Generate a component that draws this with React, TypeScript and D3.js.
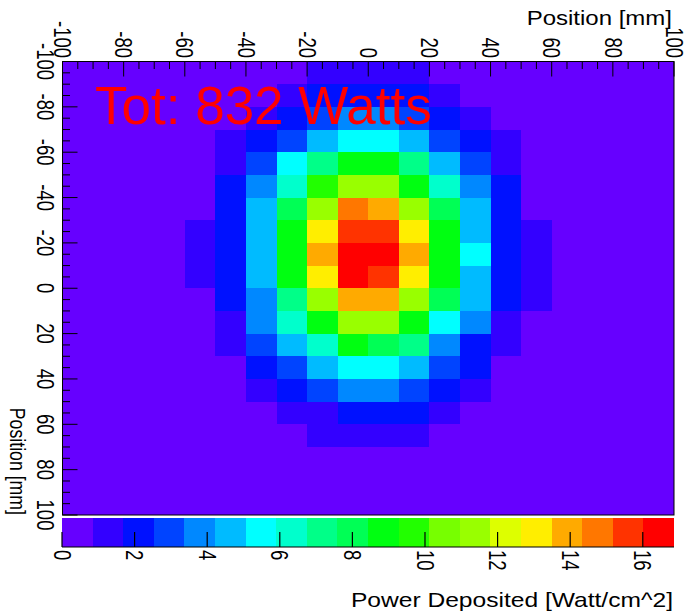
import React from "react";
import * as d3 from "d3";

// ---- data ----
const xEdges = [-100, -90, -80, -70, -60, -50, -40, -30, -20, -10, 0, 10, 20, 30, 40, 50, 60, 70, 80, 90, 100];
const yEdges = [-100, -90, -80, -70, -60, -50, -40, -30, -20, -10, 0, 10, 20, 30, 40, 50, 60, 70, 80, 90, 100];

// power deposited per 10x10 mm cell [Watt/cm^2]; rows = y bins (top -> bottom), cols = x bins
const power: number[][] = [
  [0.2, 0.2, 0.2, 0.2, 0.2, 0.2, 0.2, 0.3, 1.3, 1.3, 1.3, 1.3, 0.3, 0.2, 0.2, 0.2, 0.2, 0.2, 0.2, 0.2],
  [0.2, 0.2, 0.2, 0.2, 0.2, 0.3, 0.6, 1.3, 2.1, 2.1, 2.1, 2.1, 1.3, 0.6, 0.3, 0.2, 0.2, 0.2, 0.2, 0.2],
  [0.2, 0.2, 0.2, 0.2, 0.3, 0.6, 1.3, 2.1, 3.0, 3.8, 3.8, 3.0, 2.1, 1.3, 0.6, 0.3, 0.2, 0.2, 0.2, 0.2],
  [0.2, 0.2, 0.2, 0.2, 0.5, 1.3, 2.1, 3.0, 4.6, 5.5, 5.5, 4.6, 3.0, 2.1, 1.3, 0.5, 0.2, 0.2, 0.2, 0.2],
  [0.2, 0.2, 0.2, 0.2, 0.7, 1.3, 3.0, 5.5, 7.2, 8.9, 8.9, 7.2, 4.6, 3.0, 1.3, 0.7, 0.2, 0.2, 0.2, 0.2],
  [0.2, 0.2, 0.2, 0.3, 0.8, 2.1, 3.8, 6.3, 9.7, 11.4, 11.4, 8.9, 6.3, 3.8, 2.1, 0.8, 0.3, 0.2, 0.2, 0.2],
  [0.2, 0.2, 0.2, 0.3, 0.8, 2.1, 4.6, 8.0, 11.4, 14.8, 13.9, 11.4, 8.0, 4.6, 2.1, 0.8, 0.3, 0.2, 0.2, 0.2],
  [0.2, 0.2, 0.2, 0.4, 1.3, 2.1, 4.6, 8.9, 13.1, 15.6, 15.6, 13.1, 8.9, 4.6, 2.1, 1.3, 0.4, 0.2, 0.2, 0.2],
  [0.2, 0.2, 0.2, 0.4, 1.3, 2.1, 4.6, 8.9, 13.9, 16.86, 16.5, 13.9, 8.9, 5.5, 2.1, 1.3, 0.4, 0.2, 0.2, 0.2],
  [0.2, 0.2, 0.2, 0.4, 1.3, 2.1, 4.6, 8.9, 13.1, 16.5, 15.6, 13.1, 8.9, 4.6, 2.1, 1.3, 0.4, 0.2, 0.2, 0.2],
  [0.2, 0.2, 0.2, 0.3, 0.8, 2.1, 3.8, 7.2, 11.4, 13.9, 13.9, 11.4, 8.0, 4.6, 2.1, 1.3, 0.3, 0.2, 0.2, 0.2],
  [0.2, 0.2, 0.2, 0.3, 0.7, 1.3, 3.8, 6.3, 8.9, 11.4, 11.4, 8.9, 5.5, 3.8, 1.3, 0.7, 0.3, 0.2, 0.2, 0.2],
  [0.2, 0.2, 0.2, 0.2, 0.6, 1.3, 3.0, 4.6, 6.3, 8.9, 8.0, 7.2, 3.8, 2.1, 1.3, 0.6, 0.2, 0.2, 0.2, 0.2],
  [0.2, 0.2, 0.2, 0.2, 0.4, 0.8, 2.1, 3.0, 4.6, 5.5, 5.5, 4.6, 3.0, 2.1, 0.8, 0.4, 0.2, 0.2, 0.2, 0.2],
  [0.2, 0.2, 0.2, 0.2, 0.3, 0.6, 1.3, 2.1, 3.0, 3.8, 3.8, 3.0, 2.1, 1.3, 0.6, 0.3, 0.2, 0.2, 0.2, 0.2],
  [0.2, 0.2, 0.2, 0.2, 0.2, 0.4, 0.7, 1.3, 1.3, 2.1, 2.1, 2.1, 1.3, 0.7, 0.4, 0.2, 0.2, 0.2, 0.2, 0.2],
  [0.2, 0.2, 0.2, 0.2, 0.2, 0.3, 0.5, 0.7, 1.3, 1.3, 1.3, 1.3, 0.7, 0.5, 0.3, 0.2, 0.2, 0.2, 0.2, 0.2],
  [0.2, 0.2, 0.2, 0.2, 0.2, 0.2, 0.3, 0.4, 0.6, 0.7, 0.7, 0.6, 0.4, 0.3, 0.2, 0.2, 0.2, 0.2, 0.2, 0.2],
  [0.2, 0.2, 0.2, 0.2, 0.2, 0.2, 0.2, 0.3, 0.3, 0.4, 0.4, 0.3, 0.3, 0.2, 0.2, 0.2, 0.2, 0.2, 0.2, 0.2],
  [0.2, 0.2, 0.2, 0.2, 0.2, 0.2, 0.2, 0.2, 0.2, 0.2, 0.2, 0.2, 0.2, 0.2, 0.2, 0.2, 0.2, 0.2, 0.2, 0.2],
];

const zMax = 16.86;
const nLevels = 20;
const palette = [
  "#6600ff", "#3300ff", "#0011ff", "#0044ff", "#0088ff", "#00bbff", "#00ffff", "#00ffcc", "#00ff88", "#00ff55",
  "#00ff11", "#22ff00", "#77ff00", "#99ff00", "#ddff00", "#ffee00", "#ffaa00", "#ff7700", "#ff3300", "#ff0000",
];
const axisTicks = [-100, -80, -60, -40, -20, 0, 20, 40, 60, 80, 100];
const colorTicks = [0, 2, 4, 6, 8, 10, 12, 14, 16];
const totalLabel = "Tot: 832 Watts";
const xTitle = "Position [mm]";
const yTitle = "Position [mm]";
const zTitle = "Power Deposited [Watt/cm^2]";

const FONT = "'Liberation Sans', Arial, Helvetica, sans-serif";

export default function App() {
  const x = d3.scaleLinear().domain([-100, 100]).range([62.5, 674]);
  const y = d3.scaleLinear().domain([-100, 100]).range([61.5, 515]);
  const c = d3.scaleLinear().domain([0, zMax]).range([62, 674]);
  const level = (v: number) => Math.max(0, Math.min(nLevels - 1, Math.floor(v / (zMax / nLevels))));
  const minorTicks = d3.range(-100, 100.1, 5);
  const cbTop = 517.5;
  const cbBot = 547;
  const labelStyle = { fontFamily: FONT, fontSize: 18.5, fill: "#000" } as const;

  const cells: JSX.Element[] = [];
  power.forEach((row, j) =>
    row.forEach((v, i) => {
      const x0 = x(xEdges[i]);
      const x1 = x(xEdges[i + 1]);
      const y0 = y(yEdges[j]);
      const y1 = y(yEdges[j + 1]);
      cells.push(
        <rect key={`c${j}-${i}`} x={x0} y={y0} width={x1 - x0 + 0.3} height={y1 - y0 + 0.3} fill={palette[level(v)]} />
      );
    })
  );

  return (
    <svg width={686} height={611} style={{ position: "absolute", left: 0, top: 0, background: "#fff" }}>
      <rect x={0} y={0} width={686} height={611} fill="#fff" />
      <g shapeRendering="crispEdges">{cells}</g>

      {/* frame */}
      <rect x={x(-100)} y={y(-100)} width={x(100) - x(-100)} height={y(100) - y(-100)} fill="none" stroke="#000" strokeWidth={1} />

      {/* top axis ticks */}
      {minorTicks.map((v) => (
        <line key={`tx${v}`} x1={x(v)} x2={x(v)} y1={y(-100)} y2={y(-100) + (v % 20 === 0 ? 15 : 7.5)} stroke="#000" strokeWidth={1} />
      ))}
      {/* left axis ticks */}
      {minorTicks.map((v) => (
        <line key={`ty${v}`} y1={y(v)} y2={y(v)} x1={x(-100)} x2={x(-100) + (v % 20 === 0 ? 15 : 7.5)} stroke="#000" strokeWidth={1} />
      ))}

      {/* top labels */}
      {axisTicks.map((v) => (
        <text key={`lx${v}`} transform={`translate(${x(v)},58) rotate(90) scale(1,1.25)`} textAnchor="end" dy="0.36em" style={labelStyle}>
          {v}
        </text>
      ))}
      {/* left labels */}
      {axisTicks.map((v) => (
        <text key={`ly${v}`} transform={`translate(45,${y(v)}) rotate(90) scale(1,1.25)`} textAnchor="middle" dy="0.36em" style={labelStyle}>
          {v}
        </text>
      ))}

      {/* titles */}
      <text transform="translate(672,24.5) scale(1.2,1)" textAnchor="end" style={{ fontFamily: FONT, fontSize: 20 }}>
        {xTitle}
      </text>
      <text transform="translate(10,515) rotate(90) scale(1,1.2)" textAnchor="end" style={{ fontFamily: FONT, fontSize: 17.7 }}>
        {yTitle}
      </text>

      {/* total label */}
      <text x={95} y={123.5} style={{ fontFamily: FONT, fontSize: 53, fill: "#ff0000" }}>
        {totalLabel}
      </text>

      {/* color bar */}
      <g shapeRendering="crispEdges">
        {palette.map((col, k) => {
          const a = c((k * zMax) / nLevels);
          const b = c(((k + 1) * zMax) / nLevels);
          return <rect key={`cb${k}`} x={a} y={cbTop} width={b - a + 0.3} height={cbBot - cbTop} fill={col} />;
        })}
      </g>
      <line x1={c(0)} x2={c(zMax)} y1={cbBot} y2={cbBot} stroke="#000" strokeWidth={1.2} />
      {colorTicks.map((v) => (
        <line key={`ct${v}`} x1={c(v)} x2={c(v)} y1={cbBot} y2={cbBot - 15} stroke="#000" strokeWidth={1.2} />
      ))}
      {colorTicks.map((v) => (
        <text key={`cl${v}`} transform={`translate(${c(v)},550) rotate(90) scale(1,1.25)`} textAnchor="start" dy="0.36em" style={labelStyle}>
          {v}
        </text>
      ))}
      <text transform="translate(673,606.5) scale(1.2,1)" textAnchor="end" style={{ fontFamily: FONT, fontSize: 20.5 }}>
        {zTitle}
      </text>
    </svg>
  );
}
